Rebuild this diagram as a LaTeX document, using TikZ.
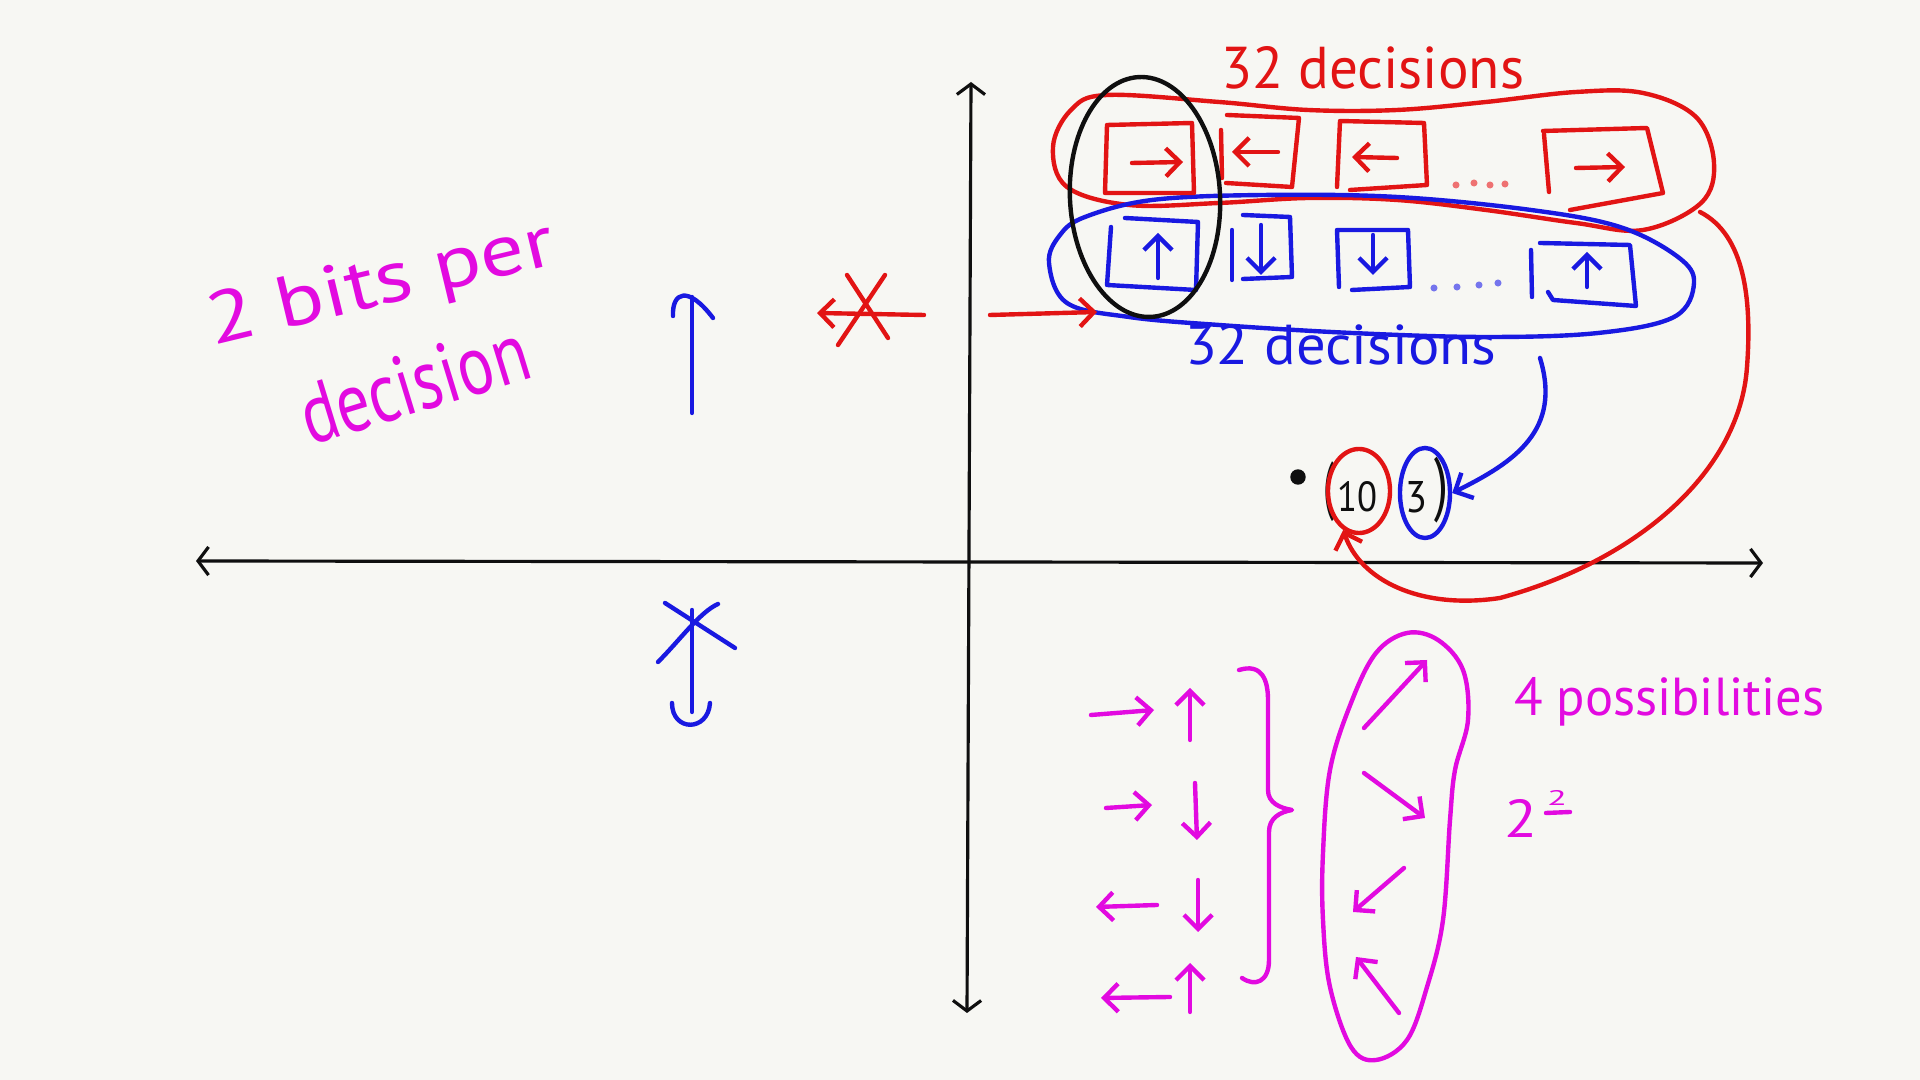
\documentclass[tikz,border=0pt]{standalone}
\usepackage{fontspec}
\setmainfont{PT Sans}
\usepackage{graphicx}
\usetikzlibrary{arrows.meta,shapes.geometric}
\definecolor{bg}{RGB}{247,247,243}
\definecolor{pr}{RGB}{226,20,20}
\definecolor{pb}{RGB}{25,25,225}
\definecolor{pm}{RGB}{226,10,224}
\definecolor{pk}{RGB}{15,15,15}
\begin{document}
\begin{tikzpicture}[x=0.01cm,y=-0.01cm,
  pen/.style={line width=1.25pt,line cap=round,line join=round},
  hd/.style={-{Straight Barb[length=4pt,width=8pt]}},
  axisline/.style={line width=0.9pt,draw=pk,{Straight Barb[length=3pt,width=8pt]}-{Straight Barb[length=3pt,width=8pt]}},
  txt/.style={inner sep=0pt,outer sep=0pt,anchor=base west},
  ring/.style={ellipse,inner sep=0pt,line width=1.25pt},
]
\fill[bg] (0,0) rectangle (1920,1080);
\path[use as bounding box] (0,0) rectangle (1920,1080);

% axes
\coordinate (xl) at (196,561);
\coordinate (xr) at (1763,563);
\coordinate (yt) at (971,82);
\coordinate (yb) at (967,1013);
\draw[axisline] (xl) -- (xr);
\draw[axisline] (yb) -- (yt);

% left texts
\node[txt,text=pm,rotate=13.5] (t2bits) at (213,346) {\resizebox{3.55cm}{0.52cm}{2 bits per}};
\node[txt,text=pm,rotate=17] (tdec) at (310,446) {\resizebox{2.35cm}{0.6cm}{decision}};

% blue up arrow
\draw[pen,pb] (692,413) -- (692,297);
\draw[pen,pb] (673,316) .. controls (672,292) and (688,285) .. (713,318);
% blue down arrow crossed
\draw[pen,pb] (692,610) -- (692,712);
\draw[pen,pb] (672,703) .. controls (672,732) and (708,732) .. (710,703);
\draw[pen,pb] (665,603) -- (735,648);
\draw[pen,pb] (718,604) .. controls (700,612) and (680,640) .. (658,662);
% red left arrow crossed
\draw[pen,pr,hd] (924,315) -- (817,313);
\draw[pen,pr] (847,275) -- (888,338) (885,275) -- (838,345);

% red group
\draw[pen,pr] plot[smooth cycle,tension=0.6] coordinates {(1053,147) (1071,110) (1107,95) (1219,102) (1308,110) (1397,110) (1486,102) (1576,92) (1643,93) (1696,117) (1714,163) (1701,203) (1643,230) (1576,223) (1486,210) (1397,200) (1308,198) (1219,203) (1129,205) (1067,187)};
\coordinate (redout) at (1700,212);
% blue group
\draw[pen,pb] plot[smooth cycle,tension=0.6] coordinates {(1049,263) (1060,235) (1085,217) (1152,200) (1263,195) (1397,197) (1531,210) (1620,227) (1678,257) (1694,283) (1674,317) (1598,333) (1486,337) (1352,333) (1219,325) (1129,317) (1067,303)};
\coordinate (bluein) at (1097,312);
\coordinate (rs) at (990,315);
\draw[pen,pr,hd] (rs) -- (bluein);

% red boxes
\draw[pen,pr] (1105,193) -- (1107,125) -- (1192,123) -- (1194,193) -- cycle;
\draw[pen,pr,hd] (1132,163) -- (1183,162);
\draw[pen,pr] (1226,183) -- (1292,187) -- (1299,118) -- (1227,115);
\draw[pen,pr] (1221,130) -- (1222,178);
\draw[pen,pr,hd] (1278,152) -- (1232,152);
\draw[pen,pr] (1350,190) -- (1427,185) -- (1424,123) -- (1340,121) -- (1337,187);
\draw[pen,pr,hd] (1397,158) -- (1352,157);
\draw[pen,pr] (1570,210) -- (1663,193) -- (1647,128) -- (1543,131);
\draw[pen,pr] (1544,134) -- (1549,192);
\draw[pen,pr,hd] (1576,168) -- (1625,167);
\foreach \px/\py in {1456/185,1474/183,1490/185,1505/184}
  \fill[pr!60] (\px,\py) circle (1pt);

% blue boxes
\draw[pen,pb] (1111,227) -- (1107,285) -- (1196,290) -- (1198,222) -- (1125,218);
\draw[pen,pb,hd] (1158,278) -- (1158,233);
\draw[pen,pb] (1232,230) -- (1232,280);
\draw[pen,pb] (1243,279) -- (1292,277) -- (1290,217) -- (1243,215);
\draw[pen,pb,hd] (1261,225) -- (1261,275);
\draw[pen,pb] (1339,287) -- (1337,230) -- (1408,230) -- (1410,287) -- (1352,290);
\draw[pen,pb,hd] (1373,235) -- (1373,275);
\draw[pen,pb] (1531,250) -- (1532,297);
\draw[pen,pb] (1548,292) -- (1553,300) -- (1636,306) -- (1630,245) -- (1540,243);
\draw[pen,pb,hd] (1587,287) -- (1587,252);
\foreach \px/\py in {1434/288,1457/287,1479/285,1498/283}
  \fill[pb!60] (\px,\py) circle (1pt);

% black selection ellipse
\node[ring,draw=pk,minimum width=1.5cm,minimum height=2.4cm,rotate=3] (sel) at (1145,197) {};

% group labels
\node[txt,text=pr] (t32r) at (1221,89) {\resizebox{3.03cm}{0.42cm}{32 decisions}};
\node[txt,text=pb] (t32b) at (1185,365) {\resizebox{3.11cm}{0.40cm}{32 decisions}};
\coordinate (blueout) at (1540,358);

% coordinate (10 3)
\fill[pk] (1298,477) circle (2.2pt);
\node[inner sep=0pt,text=pk] (lp) at (1329,492) {\resizebox*{0.11cm}{0.6cm}{(}};
\node[inner sep=0pt,text=pk] (rp) at (1441,490) {\resizebox*{0.14cm}{0.66cm}{)}};
\node[txt,text=pk] (n10) at (1337,512) {\resizebox{0.40cm}{0.30cm}{10}};
\node[txt,text=pk] (n3) at (1405,513) {\resizebox{0.22cm}{0.31cm}{3}};
\node[ring,draw=pr,minimum width=0.62cm,minimum height=0.84cm] (c10) at (1359,491) {};
\node[ring,draw=pb,minimum width=0.50cm,minimum height=0.90cm] (c3) at (1425,493) {};

% connectors to the coordinate
\draw[pen,pb,hd] (blueout) .. controls (1562,430) and (1515,462) .. (c3.east);
\draw[pen,pr,hd] (redout) .. controls (1745,235) and (1752,300) .. (1747,367)
   .. controls (1740,470) and (1640,560) .. (1500,598)
   .. controls (1420,610) and (1360,580) .. (c10.-112);

% bottom right: combinations
\draw[pen,pm,hd] (1091,715) -- (1154,710);
\draw[pen,pm,hd] (1190,740) -- (1190,688);
\draw[pen,pm,hd] (1106,808) -- (1152,805);
\draw[pen,pm,hd] (1195,783) -- (1197,840);
\draw[pen,pm,hd] (1157,905) -- (1096,907);
\draw[pen,pm,hd] (1198,880) -- (1198,932);
\draw[pen,pm,hd] (1170,997) -- (1101,998);
\draw[pen,pm,hd] (1190,1012) -- (1190,963);
% brace
\draw[pen,pm] (1239,670) .. controls (1262,663) and (1268,680) .. (1268,700) -- (1268,790)
   .. controls (1268,803) and (1280,808) .. (1292,810)
   .. controls (1280,812) and (1269,818) .. (1269,832) -- (1269,960)
   .. controls (1269,982) and (1255,987) .. (1242,978);
% magenta enclosure
\draw[pen,pm] plot[smooth cycle,tension=0.6] coordinates {(1407,633) (1438,640) (1463,670) (1468,720) (1455,770) (1450,820) (1443,920) (1427,987) (1407,1040) (1376,1060) (1351,1047) (1330,987) (1323,920) (1323,853) (1330,770) (1351,703) (1376,653)};
\draw[pen,pm,hd] (1364,728) -- (1427,660);
\draw[pen,pm,hd] (1364,773) -- (1425,818);
\draw[pen,pm,hd] (1404,868) -- (1353,912);
\draw[pen,pm,hd] (1399,1013) -- (1356,957);
% labels
\node[txt,text=pm] (t4) at (1514,716) {\resizebox{3.1cm}{0.38cm}{4 possibilities}};
\node[txt,text=pm] (tpow) at (1504,838) {\resizebox{0.33cm}{0.38cm}{2}};
\node[txt,text=pm] (tsup) at (1547,806) {\resizebox{0.2cm}{0.15cm}{2}};
\draw[pen,pm] (1546,813) -- (1570,812);
\end{tikzpicture}
\end{document}
